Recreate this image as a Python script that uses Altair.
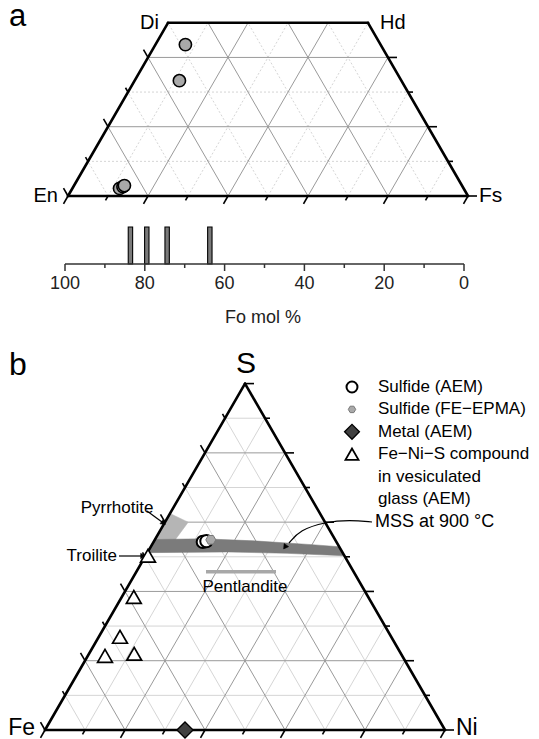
import math
import altair as alt
import pandas as pd

# ---------------- data ----------------
# (a) pyroxene compositions (fractions): Wo, Fs
pyx_wo = [0.437, 0.333, 0.022, 0.027, 0.030]
pyx_fs = [0.075, 0.112, 0.118, 0.124, 0.126]
# olivine Fo mol% histogram
ol_fo = [83.6, 79.5, 74.4, 63.7]
ol_count = [1, 1, 1, 1]
fo_ticks = [100, 80, 60, 40, 20, 0]
fo_minor = [90, 70, 50, 30, 10]

# (b) Fe-Ni-S compositions (atomic fractions): Ni, S
sulf_aem_ni = [0.123, 0.131]
sulf_aem_s = [0.543, 0.545]
sulf_epma_ni = [0.140]
sulf_epma_s = [0.549]
metal_ni = [0.35]
metal_s = [0.0]
comp_ni = [0.006, 0.030, 0.053, 0.043, 0.113]
comp_s = [0.503, 0.384, 0.269, 0.214, 0.220]
# fields
pyrr_ni = [0.0, 0.058, 0.05, 0.0]
pyrr_s = [0.625, 0.60, 0.542, 0.542]
mss_ni = [0.0, 0.12, 0.25, 0.40, 0.471, 0.497, 0.35, 0.20, 0.0]
mss_s = [0.55, 0.552, 0.546, 0.535, 0.529, 0.503, 0.510, 0.514, 0.512]
pent_ni = [0.174, 0.349]
pent_s = [0.457, 0.457]

legend_labels = ["Sulfide (AEM)", "Sulfide (FE\u2212EPMA)", "Metal (AEM)",
                 "Fe\u2212Ni\u2212S compound", " in vesiculated", " glass (AEM)"]

# ---------------- layout ----------------
SIDE = 400.0
H = SIDE * math.sqrt(3) / 2
A_X0, A_Y0 = 68.0, 196.0
B_X0, B_Y0 = 45.0, 730.0
HX100, HX0, HY0, HBAR = 65.0, 464.0, 264.0, 37.0
FONT = "Liberation Sans"
PW, PH = 523, 731


def pyx_xy(fs, wo):
    return A_X0 + SIDE * (fs + wo / 2), A_Y0 - H * wo


def tern_xy(ni, s):
    return B_X0 + SIDE * (ni + s / 2), B_Y0 - H * s


def fo_x(fo):
    return HX0 + (HX100 - HX0) * fo / 100.0


xs = alt.Scale(domain=[8, 8 + PW], nice=False, zero=False)
ys = alt.Scale(domain=[8, 8 + PH], nice=False, zero=False, reverse=True)
X = alt.X("x:Q", scale=xs, axis=None)
Y = alt.Y("y:Q", scale=ys, axis=None)


def rules(rows, color="black", width=1.0, dash=None, cap="butt"):
    kw = dict(color=color, strokeWidth=width, strokeCap=cap)
    if dash:
        kw["strokeDash"] = dash
    df = pd.DataFrame(rows, columns=["x", "y", "x2", "y2"])
    return alt.Chart(df).mark_rule(**kw).encode(x=X, y=Y, x2="x2:Q", y2="y2:Q")


def texts(rows, size, align="center", baseline="middle", color="black", font=FONT):
    df = pd.DataFrame(rows, columns=["x", "y", "t"])
    return alt.Chart(df).mark_text(fontSize=size, align=align, baseline=baseline,
                                   color=color, font=font).encode(x=X, y=Y, text="t:N")


def points(xy, shape, size, fill, stroke="black", sw=1.3, angle=0):
    df = pd.DataFrame(xy, columns=["x", "y"])
    return alt.Chart(df).mark_point(shape=shape, size=size, filled=True, fill=fill,
                                    stroke=stroke, strokeWidth=sw, opacity=1,
                                    angle=angle).encode(x=X, y=Y)


def polygon(xy, color):
    df = pd.DataFrame(xy, columns=["x", "y"])
    df["i"] = range(len(df))
    return alt.Chart(df).mark_line(color=color, fill=color, strokeWidth=0.5).encode(
        x=X, y=Y, order="i:Q")


def polyline(xy, color="black", width=1.2, interp="linear"):
    df = pd.DataFrame(xy, columns=["x", "y"])
    df["i"] = range(len(df))
    return alt.Chart(df).mark_line(color=color, strokeWidth=width, interpolate=interp).encode(
        x=X, y=Y, order="i:Q")


layers = []
MAJ_C, MIN_C = "#9a9a9a", "#d0d0d0"

# ---------------- panel a: pyroxene quadrilateral ----------------
maj, mino = [], []
for k in range(1, 5):
    wo = k / 10
    seg = (*pyx_xy(0, wo), *pyx_xy(1 - wo, wo))
    (maj if k % 2 == 0 else mino).append(seg)
for k in range(1, 10):
    f = k / 10
    we = min(0.5, 1 - f)
    s1 = (*pyx_xy(f, 0), *pyx_xy(f, we))
    s2 = (*pyx_xy(1 - f, 0), *pyx_xy(1 - f - we, we))
    (maj if k % 2 == 0 else mino).extend([s1, s2])
layers.append(rules(mino, MIN_C, 0.9, dash=[2, 2]))
layers.append(rules(maj, MAJ_C, 1.0))

# ticks a
tk = []
for k in range(0, 11):
    v = k / 10
    L = 9 if k % 2 == 0 else 5
    x0, y0 = pyx_xy(v, 0)
    tk.append((x0, y0, x0 - 0.5 * L, y0 + 0.866 * L))
for k in range(0, 5):
    wo = k / 10
    L = 9 if k % 2 == 0 else 5
    x0, y0 = pyx_xy(1 - wo, wo)
    tk.append((x0, y0, x0 + L, y0))
    x1, y1 = pyx_xy(0, wo)
    tk.append((x1, y1, x1 - 0.5 * L, y1 - 0.866 * L))
layers.append(rules(tk, "black", 1.6))

# border a
En, Fs_, Di, Hd = pyx_xy(0, 0), pyx_xy(1, 0), pyx_xy(0, 0.5), pyx_xy(0.5, 0.5)
layers.append(rules([(*En, *Fs_), (*En, *Di), (*Di, *Hd), (*Hd, *Fs_)], "black", 2.6, cap="round"))

layers.append(points([pyx_xy(f, w) for f, w in zip(pyx_fs, pyx_wo)], "circle", 150, "#a9a9a9", sw=1.6))

layers.append(texts([(Di[0] - 9, Di[1], "Di")], 20, align="right"))
layers.append(texts([(Hd[0] + 12, Hd[1], "Hd")], 20, align="left"))
layers.append(texts([(En[0] - 10, En[1], "En")], 20, align="right"))
layers.append(texts([(Fs_[0] + 11, Fs_[1], "Fs")], 21, align="left"))

# histogram
bars = pd.DataFrame({"fo": ol_fo, "n": ol_count})
bars["x"] = [fo_x(f + 0.55) for f in ol_fo]
bars["x2"] = [fo_x(f - 0.55) for f in ol_fo]
bars["y"] = [HY0 - HBAR * n for n in ol_count]
bars["y2"] = HY0
layers.append(alt.Chart(bars).mark_rect(fill="#7a7a7a", stroke="black", strokeWidth=1.1).encode(
    x=X, y=Y, x2="x2:Q", y2="y2:Q"))
hax = [(fo_x(100), HY0, fo_x(0), HY0)]
hax += [(fo_x(v), HY0, fo_x(v), HY0 + 7) for v in fo_ticks]
hax += [(fo_x(v), HY0, fo_x(v), HY0 + 4) for v in fo_minor]
layers.append(rules(hax, "#333333", 1.5))
layers.append(texts([(fo_x(v), HY0 + 20, str(v)) for v in fo_ticks], 18, color="#222222"))
layers.append(texts([(263, HY0 + 54, "Fo mol %")], 18, color="#222222"))

# ---------------- panel b: Fe-Ni-S ternary ----------------
maj, mino = [], []
for k in range(1, 10):
    f = k / 10
    segs = [(*tern_xy(0, f), *tern_xy(1 - f, f)),
            (*tern_xy(f, 0), *tern_xy(f, 1 - f)),
            (*tern_xy(1 - f, 0), *tern_xy(0, 1 - f))]
    (maj if k % 2 == 0 else mino).extend(segs)
layers.append(rules(mino, MIN_C, 0.9))
layers.append(rules(maj, MAJ_C, 1.0))

layers.append(polygon([tern_xy(n, s) for n, s in zip(pyrr_ni, pyrr_s)], "#b5b5b5"))
layers.append(polygon([tern_xy(n, s) for n, s in zip(mss_ni, mss_s)], "#7b7b7b"))
layers.append(rules([(*tern_xy(pent_ni[0], pent_s[0]), *tern_xy(pent_ni[1], pent_s[1]))], "#a8a8a8", 3.5))

tk = []
for k in range(0, 11):
    v = k / 10
    L = 9 if k % 2 == 0 else 5
    x0, y0 = tern_xy(v, 0)
    tk.append((x0, y0, x0 - 0.5 * L, y0 + 0.866 * L))
    x1, y1 = tern_xy(1 - v, v)
    tk.append((x1, y1, x1 + L, y1))
    if k < 10:
        x2, y2 = tern_xy(0, v)
        tk.append((x2, y2, x2 - 0.5 * L, y2 - 0.866 * L))
layers.append(rules(tk, "black", 1.6))

Fe, Ni, S = tern_xy(0, 0), tern_xy(1, 0), tern_xy(0, 1)
layers.append(rules([(*Fe, *Ni), (*Fe, *S), (*S, *Ni)], "black", 2.6, cap="round"))

layers.append(texts([(S[0] + 1, S[1] - 20, "S")], 30))
layers.append(texts([(Fe[0] - 10, Fe[1] - 2, "Fe")], 23, align="right"))
layers.append(texts([(Ni[0] + 11, Ni[1] - 2, "Ni")], 23, align="left"))

# annotations
layers.append(texts([(245, 587, "Pentlandite")], 17))
layers.append(texts([(117, 508, "Pyrrhotite")], 17))
layers.append(texts([(117, 556, "Troilite")], 17, align="right"))
layers.append(texts([(375, 522, "MSS at 900 \u00b0C")], 18, align="left"))
layers.append(polyline([(147, 511), (162, 522)]))
layers.append(polyline([(119, 556), (141, 556)]))
layers.append(polyline([(372, 522), (350, 520), (325, 522), (300, 530), (289, 543)], interp="basis"))
layers.append(points([(163.5, 523)], "triangle-right", 30, "black", sw=0.5, angle=36))
layers.append(points([(143, 556)], "triangle-right", 30, "black", sw=0.5, angle=0))
layers.append(points([(285, 547)], "triangle-right", 30, "black", sw=0.5, angle=125))

# data points b
HEX = "M-1,0L-0.5,-0.866L0.5,-0.866L1,0L0.5,0.866L-0.5,0.866Z"
layers.append(points([tern_xy(n, s) for n, s in zip(comp_ni, comp_s)], "triangle-up", 220, "white", sw=1.7))
layers.append(points([tern_xy(n, s) for n, s in zip(metal_ni, metal_s)], "diamond", 260, "#404040", sw=1.3))
layers.append(points([tern_xy(n, s) for n, s in zip(sulf_aem_ni, sulf_aem_s)], "circle", 150, "white", sw=2.0))
layers.append(points([tern_xy(n, s) for n, s in zip(sulf_epma_ni, sulf_epma_s)], HEX, 100, "#a9a9a9", stroke="#777777", sw=1.0))

# legend
LX, LT, LY0, LDY = 352, 378, 387, 22.4
ly = [LY0 + LDY * i for i in range(6)]
layers.append(points([(LX, ly[0])], "circle", 120, "white", sw=2.0))
layers.append(points([(LX, ly[1])], HEX, 55, "#a9a9a9", stroke="#777777", sw=1.0))
layers.append(points([(LX, ly[2])], "diamond", 220, "#404040", sw=1.3))
layers.append(points([(LX, ly[3])], "triangle-up", 170, "white", sw=1.8))
layers.append(texts([(LT, y, t) for y, t in zip(ly, legend_labels)], 17, align="left"))

# panel letters
layers.append(texts([(9, 26, "a")], 31, align="left", baseline="alphabetic"))
layers.append(texts([(9, 375, "b")], 32, align="left", baseline="alphabetic"))

chart = alt.layer(*layers).properties(
    width=PW, height=PH, padding=0,
    autosize=alt.AutoSizeParams(type="none"),
).configure_view(stroke=None)

chart.save("out.html", embed_options={"renderer": "svg", "actions": False})
